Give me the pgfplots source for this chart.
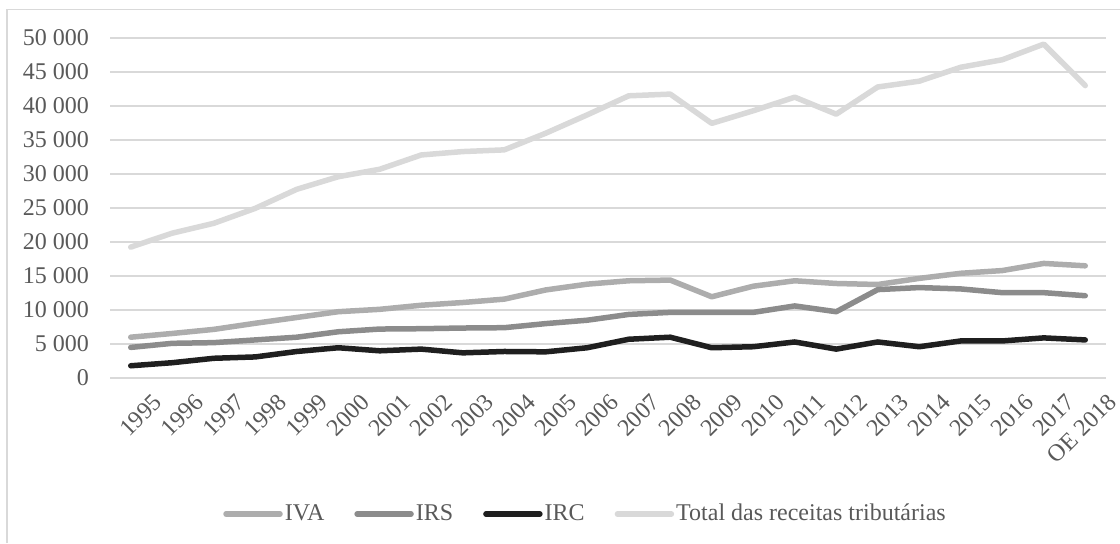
\documentclass[border=0pt]{standalone}
\usepackage{pgfplots}
\pgfplotsset{compat=1.18}
\usepackage{pgfplotstable}
\usepackage{fontspec}
\setmainfont{Liberation Serif}
\definecolor{txt}{HTML}{595959}
\definecolor{grd}{HTML}{D9D9D9}
\definecolor{civa}{HTML}{ADADAD}
\definecolor{cirs}{HTML}{8C8C8C}
\definecolor{circ}{HTML}{1F1F1F}
\definecolor{ctot}{HTML}{D9D9D9}
\newcommand\fs{\fontsize{12}{14}\selectfont}

\pgfplotstableread{
x iva irs irc tot
0 6000 4500 1800 19250
1 6550 5100 2250 21300
2 7150 5200 2900 22750
3 8050 5600 3100 24950
4 8900 6000 3900 27750
5 9750 6800 4450 29600
6 10100 7200 4000 30700
7 10700 7250 4250 32800
8 11100 7350 3700 33300
9 11600 7400 3900 33550
10 12950 8000 3850 36000
11 13800 8500 4450 38700
12 14300 9350 5700 41500
13 14400 9650 6000 41750
14 11950 9650 4450 37450
15 13500 9650 4600 39300
16 14300 10600 5300 41300
17 13900 9750 4250 38800
18 13750 13000 5300 42800
19 14650 13300 4600 43650
20 15400 13100 5450 45700
21 15800 12550 5450 46800
22 16850 12550 5900 49100
23 16500 12100 5600 43000
}\data

\begin{document}
\begin{tikzpicture}[x=1pt,y=1pt]
\useasboundingbox (0,0) rectangle (560,271.5);
\draw[grd, line width=0.75pt] (3.5,0) -- (3.5,266.75) -- (560,266.75);
\begin{axis}[
  at={(55pt,82.5pt)}, anchor=south west,
  scale only axis, width=498pt, height=170pt,
  xmin=-0.5, xmax=23.5, ymin=0, ymax=50000,
  scaled y ticks=false,
  axis line style={draw=none},
  major tick style={draw=none},
  ymajorgrids, grid style={grd, line width=0.75pt},
  ytick={0,5000,...,50000},
  yticklabels={0,5 000,10 000,15 000,20 000,25 000,30 000,35 000,40 000,45 000,50 000},
  yticklabel style={font=\fs, text=txt, xshift=-7pt},
  xtick={0,...,23},
  xticklabels={1995,1996,1997,1998,1999,2000,2001,2002,2003,2004,2005,2006,2007,2008,2009,2010,2011,2012,2013,2014,2015,2016,2017,OE 2018},
  xticklabel style={font=\fs, text=txt, rotate=45, anchor=north east, inner sep=1pt, xshift=3.5pt, yshift=-11.5pt},
  legend columns=4,
  legend style={at={(0.4774,-0.40)}, anchor=center, draw=none, fill=none, font=\fs, text=txt,
    /tikz/every even column/.append style={column sep=14pt},
    nodes={inner sep=1pt}},
  legend image code/.code={\draw[#1, line cap=round] (0pt,0pt) -- (27pt,0pt);},
  every axis plot/.append style={line width=2.75pt, line cap=round, line join=round},
]
\addplot[civa] table[x=x,y=iva]{\data};
\addlegendentry{IVA}
\addplot[cirs] table[x=x,y=irs]{\data};
\addlegendentry{IRS}
\addplot[circ] table[x=x,y=irc]{\data};
\addlegendentry{IRC}
\addplot[ctot] table[x=x,y=tot]{\data};
\addlegendentry{Total das receitas tributárias}
\end{axis}
\end{tikzpicture}
\end{document}
